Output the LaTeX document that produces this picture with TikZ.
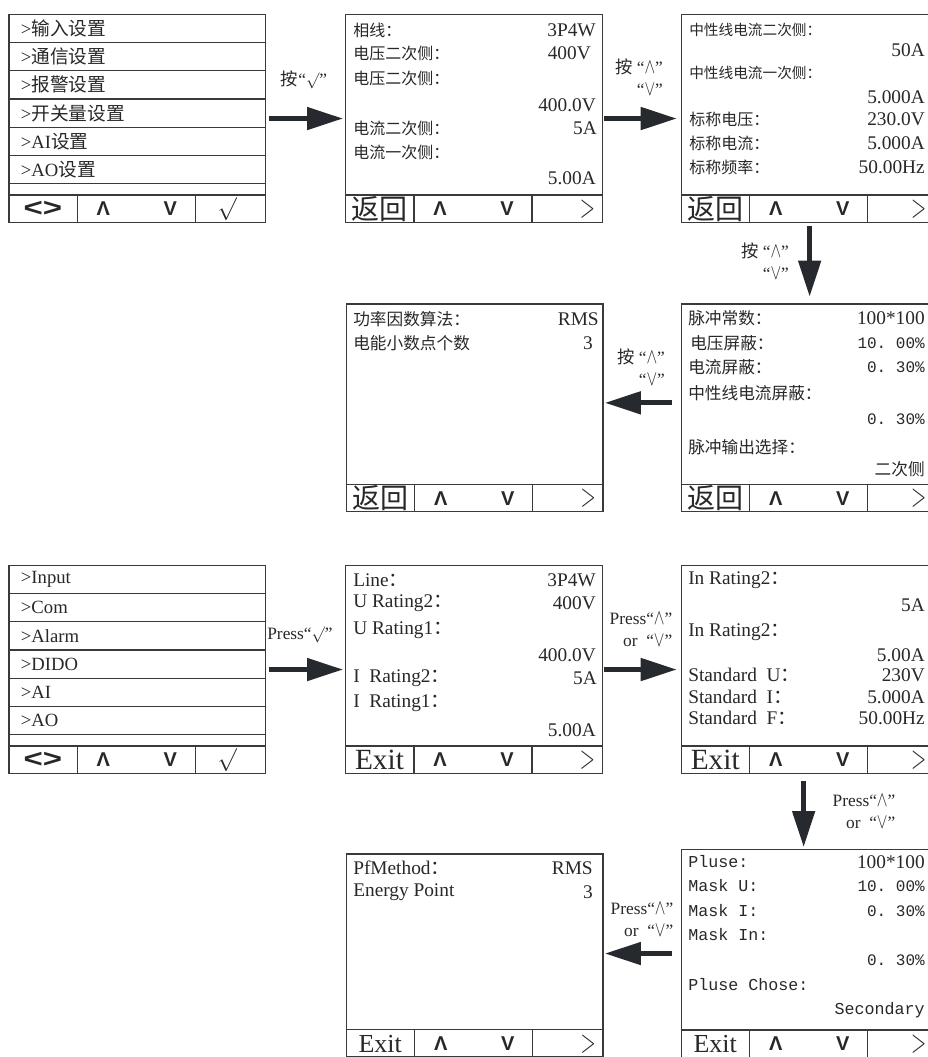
\documentclass[tikz,border=0pt]{standalone}
\usepackage{fontspec}
\setmainfont{Liberation Serif}
\setsansfont{Liberation Sans}
\setmonofont{Liberation Mono}
\newfontfamily\cjk{Noto Sans CJK SC}
\usetikzlibrary{arrows.meta,calc,positioning}
\definecolor{PanelGray}{RGB}{58,58,58}
\definecolor{ArrowInk}{RGB}{38,41,45}
\definecolor{TextInk}{RGB}{40,40,40}
\newcommand{\fsz}[1]{\fontsize{#1}{#1}\selectfont}
\newcommand{\zhcolon}{{\cjk ：}}
\newcommand{\upsym}{\scalebox{1}[1.35]{$\wedge$}}
\newcommand{\downsym}{\scalebox{1}[1.35]{$\vee$}}
\newcommand{\screen}[7][]{% [panel options] name, left, top, first key, x of last key, last key
  \node[panel,#1] (#2) at (#3,#4) {};
  \draw[panelline] ($(#2.south west)+(0,-28)$) -- ($(#2.south east)+(0,-28)$);
  \draw[panelline] ($(#2.south west)+(69,0)$) -- ++(0,-28);
  \draw[panelline] ($(#2.south west)+(187,0)$) -- ++(0,-28);
  \node[key] (#2-k1) at ($(#2.south west)+(34.5,-14)$) {#5};
  \node[key,font=\sffamily\bfseries\fsz{15}] (#2-k2) at ($(#2.south west)+(95,-14)$) {Λ};
  \node[key,font=\sffamily\bfseries\fsz{15}] (#2-k3) at ($(#2.south west)+(162,-14)$) {V};
  \node[key] (#2-k4) at ($(#2.south west)+(#6,-14)$) {#7};}
\newcommand{\menukey}{{\sffamily\bfseries\fsz{19}\scalebox{1.3}[1]{<>}}}
\newcommand{\okkey}{{\fsz{17}$\surd$}}
\newcommand{\backkey}{{\cjk\fsz{21}返回}}
\newcommand{\exitkey}{{\fsz{22}Exit}}
\newcommand{\lowexitkey}{{\fsz{19.5}Exit}}
\newcommand{\nextkey}{{\fsz{26}\scalebox{0.6}[1]{$>$}}}
\tikzset{
  panel/.style={draw=PanelGray,line width=1pt,anchor=north west,inner sep=0pt,
    minimum width=192.4pt,minimum height=155.8pt},
  panelline/.style={draw=PanelGray,line width=1pt},
  key/.style={inner sep=0pt},
  menuitem/.style={anchor=west,inner sep=0pt,font=\fsz{14}},
  zh/.style={anchor=west,inner sep=0pt,font=\cjk\fsz{12}},
  en/.style={anchor=west,inner sep=0pt,font=\fsz{14.5}},
  num/.style={anchor=east,inner sep=0pt,font=\fsz{14.5}},
  tt/.style={anchor=west,inner sep=0pt,font=\ttfamily\fsz{12.5}},
  ttnum/.style={anchor=east,inner sep=0pt,font=\ttfamily\fsz{12}},
  hint/.style={inner sep=0pt,align=right,font=\fontsize{13}{16.5}\selectfont},
  bigarrow/.style={-{Triangle[length=27pt,width=16.5pt]},line width=3.6pt,draw=ArrowInk}
}

\begin{document}
\begin{tikzpicture}[x=0.75pt,y=-0.75pt,every node/.append style={text=TextInk}]
  \useasboundingbox (0,0) rectangle (928,1057);
  \fill[white] (0,0) rectangle (928,1057);
  \clip (0,0) rectangle (928,1057);

  % Chinese pages
  \screen{A}{8.3}{14}{\menukey}{219}{\okkey}
  \foreach \r in {1,...,6}
    \draw[panelline] ($(A.north west)+(0,28.3*\r)$) -- ($(A.north east)+(0,28.3*\r)$);
  \foreach \t [count=\i] in {\cjk 输入设置,\cjk 通信设置,\cjk 报警设置,\cjk 开关量设置,AI{\cjk 设置},AO{\cjk 设置}}
    \node[menuitem] (A-m\i) at ($(A.north west)+(12.4,28.3*\i-14)$) {>\t};

  \screen{B}{345}{14}{\backkey}{242.5}{\nextkey}
  \node[zh] (B-l1) at (353,30) {相线：};
  \node[num] (B-v1) at (596,30) {3P4W};
  \node[zh] (B-l2) at (353,53) {电压二次侧：};
  \node[num] (B-v2) at (591,53) {400V};
  \node[zh] (B-l3) at (353,78) {电压二次侧：};
  \node[num] (B-v3) at (596,105) {400.0V};
  \node[zh] (B-l4) at (353,128) {电流二次侧：};
  \node[num] (B-v4) at (597,128) {5A};
  \node[zh] (B-l5) at (353,152) {电流一次侧：};
  \node[num] (B-v5) at (596,178) {5.00A};

  \screen{C}{680.7}{14}{\backkey}{238}{\nextkey}
  \node[zh,font=\cjk\fsz{11}] (C-l1) at (689,30) {中性线电流二次侧：};
  \node[num] (C-v1) at (925,50) {50A};
  \node[zh,font=\cjk\fsz{11}] (C-l2) at (689,73) {中性线电流一次侧：};
  \node[num] (C-v2) at (925,97) {5.000A};
  \node[zh] (C-l3) at (689,119) {标称电压：};
  \node[num] (C-v3) at (925,119) {230.0V};
  \node[zh] (C-l4) at (689,143) {标称电流：};
  \node[num] (C-v4) at (925,143) {5.000A};
  \node[zh] (C-l5) at (689,167) {标称频率：};
  \node[num] (C-v5) at (925,167) {50.00Hz};

  \screen{D}{345.7}{303.3}{\backkey}{242.5}{\nextkey}
  \node[zh,font=\cjk\fsz{12.5}] (D-l1) at (353,319) {功率因数算法：};
  \node[num] (D-v1) at (599,319) {RMS};
  \node[zh,font=\cjk\fsz{12.5}] (D-l2) at (353,343) {电能小数点个数};
  \node[num] (D-v2) at (593,343) {3};

  \screen{E}{680.7}{303.3}{\backkey}{238}{\nextkey}
  \node[zh,font=\cjk\fsz{12.5}] (E-l1) at (688,318) {脉冲常数：};
  \node[num] (E-v1) at (925,318) {100*100};
  \node[zh,font=\cjk\fsz{12.5}] (E-l2) at (690,343) {电压屏蔽：};
  \node[ttnum] (E-v2) at (925,343) {10. 00\%};
  \node[zh,font=\cjk\fsz{12.5}] (E-l3) at (688,367) {电流屏蔽：};
  \node[ttnum] (E-v3) at (925,367) {0. 30\%};
  \node[zh,font=\cjk\fsz{12.5}] (E-l4) at (688,393) {中性线电流屏蔽：};
  \node[ttnum] (E-v4) at (925,419) {0. 30\%};
  \node[zh,font=\cjk\fsz{12.5}] (E-l5) at (688,447) {脉冲输出选择：};
  \node[zh,font=\cjk\fsz{12.5},anchor=east] (E-v5) at (925,469) {二次侧};

  \draw[bigarrow,shorten <=2pt,shorten >=1.5pt] (A) -- (B);
  \draw[bigarrow,shorten <=1pt,shorten >=3pt] (B) -- (C);
  \draw[bigarrow,shorten <=2.3pt,shorten >=5pt] (C) -- (E);
  \draw[bigarrow,shorten <=6.7pt,shorten >=1pt] ($(E.west)+(0,-5)$) -- ($(D.east)+(0,-5)$);
  \node[hint] (h1) at (304,80) {{\cjk 按}“$\surd$”};
  \node[hint] (h2) at (639,77) {{\cjk 按} “\upsym”\\“\downsym”};
  \node[hint] (h3) at (765,261) {{\cjk 按} “\upsym”\\“\downsym”};
  \node[hint] (h4) at (641,367) {{\cjk 按} “\upsym”\\“\downsym”};

  % English pages
  \screen{A2}{8.3}{565}{\menukey}{219}{\okkey}
  \foreach \r in {1,...,6}
    \draw[panelline] ($(A2.north west)+(0,28.3*\r)$) -- ($(A2.north east)+(0,28.3*\r)$);
  \foreach \t [count=\i] in {Input,Com,Alarm,DIDO,AI,AO}
    \node[menuitem] (A2-m\i) at ($(A2.north west)+(12.4,28.3*\i-14)$) {>\t};

  \screen{B2}{345}{565}{\exitkey}{242.5}{\nextkey}
  \node[en] (B2-l1) at (353,580) {Line\zhcolon};
  \node[num] (B2-v1) at (596,580) {3P4W};
  \node[en] (B2-l2) at (353,603) {U Rating2\zhcolon};
  \node[num] (B2-v2) at (596,603) {400V};
  \node[en] (B2-l3) at (353,630) {U Rating1\zhcolon};
  \node[num] (B2-v3) at (596,655) {400.0V};
  \node[en] (B2-l4) at (353,678) {I\ \ Rating2\zhcolon};
  \node[num] (B2-v4) at (597,678) {5A};
  \node[en] (B2-l5) at (353,703) {I\ \ Rating1\zhcolon};
  \node[num] (B2-v5) at (596,730) {5.00A};

  \screen{C2}{680.7}{565}{\exitkey}{238}{\nextkey}
  \node[en] (C2-l1) at (688,580) {In Rating2\zhcolon};
  \node[num] (C2-v1) at (925,605) {5A};
  \node[en] (C2-l2) at (688,632) {In Rating2\zhcolon};
  \node[num] (C2-v2) at (925,655) {5.00A};
  \node[en] (C2-l3) at (688,675) {Standard\ \ U\zhcolon};
  \node[num] (C2-v3) at (925,675) {230V};
  \node[en] (C2-l4) at (688,697) {Standard\ \ I\zhcolon};
  \node[num] (C2-v4) at (925,697) {5.000A};
  \node[en] (C2-l5) at (688,718) {Standard\ \ F\zhcolon};
  \node[num] (C2-v5) at (925,718) {50.00Hz};

  \screen[minimum height=152.3pt]{D2}{345.7}{853.3}{\lowexitkey}{242.5}{\nextkey}
  \node[en] (D2-l1) at (353,868) {PfMethod\zhcolon};
  \node[num] (D2-v1) at (593,868) {RMS};
  \node[en] (D2-l2) at (353,892) {Energy Point};
  \node[num] (D2-v2) at (593,892) {3};

  \screen{E2}{680.7}{849}{\lowexitkey}{238}{\nextkey}
  \node[tt] (E2-l1) at (688,862) {Pluse:};
  \node[num] (E2-v1) at (925,862) {100*100};
  \node[tt] (E2-l2) at (688,886) {Mask U:};
  \node[ttnum] (E2-v2) at (925,886) {10. 00\%};
  \node[tt] (E2-l3) at (688,911) {Mask I:};
  \node[ttnum] (E2-v3) at (925,911) {0. 30\%};
  \node[tt] (E2-l4) at (688,935) {Mask In:};
  \node[ttnum] (E2-v4) at (925,960) {0. 30\%};
  \node[tt] (E2-l5) at (688,985) {Pluse Chose:};
  \node[tt,anchor=east] (E2-v5) at (925,1010) {Secondary};

  \draw[bigarrow,shorten <=2pt,shorten >=1.5pt] (A2) -- (B2);
  \draw[bigarrow,shorten <=1pt,shorten >=3pt] (B2) -- (C2);
  \draw[bigarrow,shorten <=5.3pt,shorten >=1.5pt] ($(C2.south)+(-6,0)$) -- ($(E2.north)+(-6,0)$);
  \draw[bigarrow,shorten <=6.7pt,shorten >=1pt] (E2.west) -- (E2.west -| D2.east);
  \node[hint] (h5) at (300,635) {Press“$\surd$”};
  \node[hint] (h6) at (641,630) {Press“\upsym”\\or\ \ “\downsym”};
  \node[hint] (h7) at (864,812) {Press“\upsym”\\or\ \ “\downsym”};
  \node[hint] (h8) at (642,920) {Press“\upsym”\\or\ \ “\downsym”};
\end{tikzpicture}
\end{document}
